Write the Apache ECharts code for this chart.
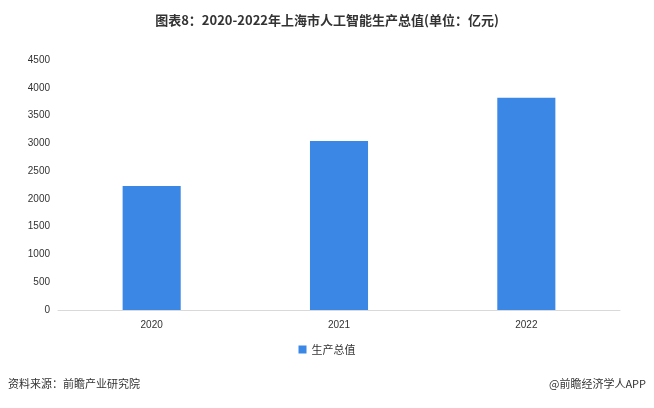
<!DOCTYPE html>
<html><head><meta charset="utf-8">
<script src="https://cdn.jsdelivr.net/npm/echarts@6/dist/echarts.min.js"></script>
<style>body{margin:0}#c{width:654px;height:408px}</style></head>
<body><div id="c"></div>
<script>
const categories = ['2020','2021','2022'];
const values = [2230, 3040, 3820];
const yTicks = [0,500,1000,1500,2000,2500,3000,3500,4000,4500];
const chart = echarts.init(document.getElementById('c'));
chart.setOption({
  animation:false,
  title:{text:'图表8：2020-2022年上海市人工智能生产总值(单位：亿元)',left:'center',top:9,
    textStyle:{fontSize:13,fontWeight:'bold',color:'#333',fontFamily:'Noto Sans CJK SC'}},
  grid:{left:58,right:34,top:60,bottom:98},
  legend:{bottom:48,itemWidth:8,itemHeight:8,icon:'rect',textStyle:{fontSize:11,color:'#333',fontFamily:'Noto Sans CJK SC'}},
  xAxis:{type:'category',data:categories,axisTick:{show:false},
    axisLine:{lineStyle:{color:'#d9d9d9'}},axisLabel:{fontSize:10,color:'#333',margin:10}},
  yAxis:{type:'value',min:0,max:yTicks[yTicks.length-1],interval:500,
    splitLine:{show:false},axisLine:{show:false},axisTick:{show:false},
    axisLabel:{fontSize:10,color:'#333',formatter:v=>String(v)}},
  series:[{name:'生产总值',type:'bar',data:values,barWidth:'31%',itemStyle:{color:'#3a87e6'}}],
  graphic:[
    {type:'text',left:8,top:378,style:{text:'资料来源：前瞻产业研究院',fontSize:11,fill:'#333',fontFamily:'Noto Sans CJK SC'}},
    {type:'text',right:8,top:378,style:{text:'@前瞻经济学人APP',fontSize:11,fill:'#333',fontFamily:'Noto Sans CJK SC'}}
  ]
});
</script></body></html>
